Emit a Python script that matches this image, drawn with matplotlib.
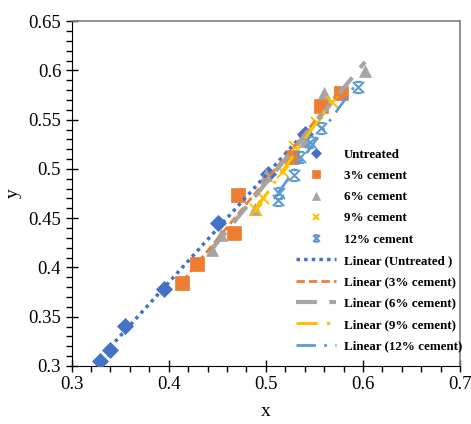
import matplotlib
matplotlib.use("Agg")
import matplotlib.pyplot as plt
from matplotlib.path import Path
from matplotlib.ticker import MultipleLocator, FuncFormatter
import numpy as np

plt.rcParams['font.family'] = ['Liberation Serif', 'DejaVu Serif']

# data
names = ['Untreated', '3% cement', '6% cement', '9% cement', '12% cement']
fit_names = ['Linear (Untreated )', 'Linear (3% cement)', 'Linear (6% cement)',
             'Linear (9% cement)', 'Linear (12% cement)']

x_untreated = [0.329, 0.340, 0.355, 0.395, 0.451, 0.502, 0.540]
y_untreated = [0.305, 0.316, 0.341, 0.378, 0.445, 0.495, 0.535]
x_c3 = [0.414, 0.429, 0.467, 0.471, 0.527, 0.557, 0.577]
y_c3 = [0.384, 0.403, 0.435, 0.474, 0.512, 0.564, 0.577]
x_c6 = [0.445, 0.454, 0.489, 0.500, 0.540, 0.560, 0.602]
y_c6 = [0.418, 0.433, 0.459, 0.494, 0.528, 0.577, 0.599]
x_c9 = [0.490, 0.497, 0.518, 0.530, 0.553, 0.568]
y_c9 = [0.458, 0.470, 0.497, 0.522, 0.547, 0.568]
x_c12 = [0.512, 0.513, 0.529, 0.535, 0.545, 0.557, 0.595]
y_c12 = [0.468, 0.476, 0.494, 0.512, 0.527, 0.542, 0.583]

xs = [x_untreated, x_c3, x_c6, x_c9, x_c12]
ys = [y_untreated, y_c3, y_c6, y_c9, y_c12]

colors = ['#4472C4', '#ED7D31', '#A5A5A5', '#FFC000', '#5B9BD5']

# x with bars on top and bottom (excel style star)
star = Path([(-1, -1), (1, 1), (-1, 1), (1, -1), (-0.6, 1), (0.6, 1), (-0.6, -1), (0.6, -1)],
            [Path.MOVETO, Path.LINETO, Path.MOVETO, Path.LINETO,
             Path.MOVETO, Path.LINETO, Path.MOVETO, Path.LINETO])
markers = ['D', 's', '^', 'x', star]
msizes = [8, 10, 9, 8, 8]
lstyles = [(0, (1, 1.2)), (0, (3, 1.5)), (0, (5, 3)), (0, (7, 3, 1, 3)), (0, (7, 3, 1, 3, 1, 3))]
lwidths = [2.5, 2.0, 3.0, 2.2, 2.0]

fig = plt.figure(figsize=(4.71, 4.24), dpi=100)
ax = fig.add_axes([0.152, 0.137, 0.825, 0.813])

sc_handles = []
for i in range(5):
  h, = ax.plot(xs[i], ys[i], linestyle='none', marker=markers[i], markersize=msizes[i],
               color=colors[i], markeredgewidth=1.5 if i >= 3 else 0.5, label=names[i], zorder=3)
  sc_handles.append(h)

ln_handles = []
for i in range(5):
  k, b = np.polyfit(xs[i], ys[i], 1)
  xl = np.array([min(xs[i]), max(xs[i])])
  h, = ax.plot(xl, k * xl + b, linestyle=lstyles[i], linewidth=lwidths[i],
               color=colors[i], label=fit_names[i], zorder=4)
  ln_handles.append(h)

ax.set_xlim(0.3, 0.7)
ax.set_ylim(0.3, 0.65)
ax.xaxis.set_major_locator(MultipleLocator(0.1))
ax.xaxis.set_minor_locator(MultipleLocator(0.02))
ax.yaxis.set_major_locator(MultipleLocator(0.05))
ax.yaxis.set_minor_locator(MultipleLocator(0.01))
fmt = FuncFormatter(lambda v, p: '%g' % round(v, 3))
ax.xaxis.set_major_formatter(fmt)
ax.yaxis.set_major_formatter(fmt)
ax.tick_params(which='major', direction='inout', length=8, width=1, labelsize=13.5)
ax.tick_params(which='minor', direction='out', length=4, width=1)
ax.set_xlabel('x', fontsize=14, labelpad=7)
ax.set_ylabel('y', fontsize=14, labelpad=5)
for s in ['top', 'right']:
  ax.spines[s].set_color('#7f7f7f')
  ax.spines[s].set_linewidth(1.2)

ax.legend(sc_handles + ln_handles, names + fit_names, loc='lower right',
          bbox_to_anchor=(1.006, 0.04), frameon=False, markerscale=0.6,
          handlelength=3.1, labelspacing=0.7, handletextpad=0.6,
          borderpad=0, borderaxespad=0,
          prop={'weight': 'bold', 'size': 9.4})

fig.savefig('out.png', dpi=100)
